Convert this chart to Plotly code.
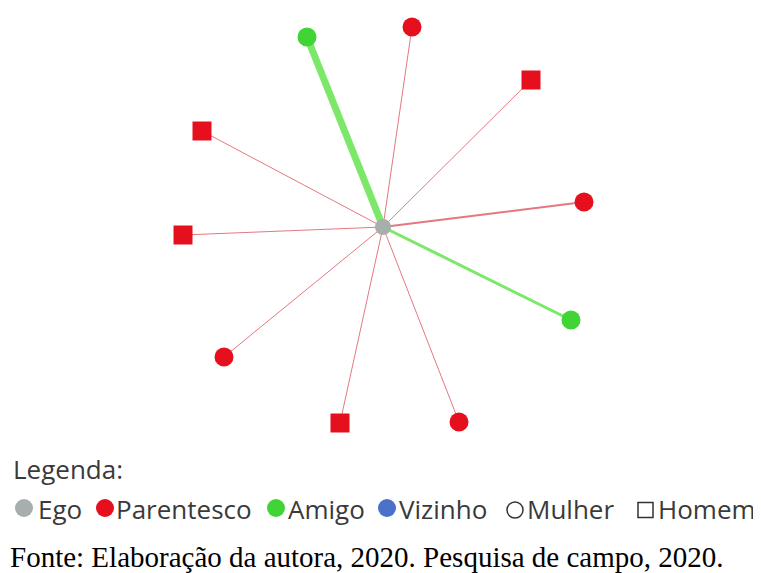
import plotly.graph_objects as go

# Network data (layout coordinates in page pixels, y grows downward)
ego_x, ego_y = 383, 227
alter_x = [307, 412, 531, 202, 584, 183, 571, 224, 340, 459]
alter_y = [37, 27, 80, 131, 202, 235, 320, 357, 423, 422]
alter_tie = ["Amigo", "Parentesco", "Parentesco", "Parentesco", "Parentesco",
             "Parentesco", "Amigo", "Parentesco", "Parentesco", "Parentesco"]
alter_sex = ["Mulher", "Mulher", "Homem", "Homem", "Mulher",
             "Homem", "Mulher", "Mulher", "Homem", "Mulher"]
tie_strength = [7, 1, 1, 1, 2, 1, 3, 1, 1, 1]

# Legend entries
legend_labels = ["Ego", "Parentesco", "Amigo", "Vizinho", "Mulher", "Homem"]
legend_kind = ["Ego", "Parentesco", "Amigo", "Vizinho", "Mulher", "Homem"]

node_color = {"Ego": "#a6aeae", "Parentesco": "#e60f1e", "Amigo": "#40d437", "Vizinho": "#4a72c8"}
edge_color = {"Parentesco": "#e47880", "Amigo": "#7ce86a"}
symbol = {"Mulher": "circle", "Homem": "square"}

fig = go.Figure()

for x, y, t, w in zip(alter_x, alter_y, alter_tie, tie_strength):
    fig.add_trace(go.Scatter(x=[ego_x, x], y=[ego_y, y], mode="lines",
                             line=dict(color=edge_color[t], width=w),
                             hoverinfo="skip", showlegend=False))

fig.add_trace(go.Scatter(
    x=alter_x, y=alter_y, mode="markers",
    marker=dict(color=[node_color[t] for t in alter_tie],
                symbol=[symbol[s] for s in alter_sex],
                size=[19 if s == "Mulher" else 19 for s in alter_sex],
                opacity=1, line=dict(width=0)),
    showlegend=False))

fig.add_trace(go.Scatter(x=[ego_x], y=[ego_y], mode="markers",
                         marker=dict(color=node_color["Ego"], size=16, opacity=1, line=dict(width=0)),
                         showlegend=False))

# Legend (drawn with shapes + text), positions in page pixels
font_sans = "Open Sans, Noto Sans, sans-serif"
text_color = "#3a3a3a"
swatch_x = [24, 105, 276, 387, 515, 645.5]
text_x = [36, 114, 286, 397, 525, 656]
row_y = 508

fig.add_annotation(x=11, y=469, xref="x", yref="y", text="Legenda:", showarrow=False,
                   xanchor="left", yanchor="middle",
                   font=dict(family=font_sans, size=26, color=text_color))

for kind, label, sx, tx in zip(legend_kind, legend_labels, swatch_x, text_x):
    if kind in node_color:
        r = 9
        fig.add_shape(type="circle", xref="x", yref="y", x0=sx - r, x1=sx + r,
                      y0=row_y - r, y1=row_y + r,
                      fillcolor=node_color[kind], line=dict(width=0))
    elif kind == "Mulher":
        r = 8
        fig.add_shape(type="circle", xref="x", yref="y", x0=sx - r, x1=sx + r,
                      y0=row_y + 2 - r, y1=row_y + 2 + r,
                      fillcolor="rgba(0,0,0,0)", line=dict(width=1.5, color="#333333"))
    else:
        r = 7.5
        fig.add_shape(type="rect", xref="x", yref="y", x0=sx - r, x1=sx + r,
                      y0=row_y + 2 - r, y1=row_y + 2 + r,
                      fillcolor="rgba(0,0,0,0)", line=dict(width=1.5, color="#333333"))
    fig.add_annotation(x=tx, y=row_y + 1, xref="x", yref="y", text=label,
                       showarrow=False, xanchor="left", yanchor="middle",
                       font=dict(family=font_sans, size=26, color=text_color))

fig.add_annotation(x=8, y=557, xref="x", yref="y",
                   text="Fonte: Elaboração da autora, 2020. Pesquisa de campo, 2020.",
                   showarrow=False, xanchor="left", yanchor="middle",
                   font=dict(family="Liberation Serif, Times New Roman, serif", size=29, color="#000000"))

# The page body has an 8px margin, so the axes are offset to map data units to page pixels
fig.update_xaxes(range=[8, 769], visible=False, fixedrange=True)
fig.update_yaxes(range=[581, 8], visible=False, fixedrange=True)
fig.update_layout(width=761, height=573, margin=dict(l=0, r=0, t=0, b=0),
                  plot_bgcolor="white", paper_bgcolor="white")

fig.write_html("out.html")
